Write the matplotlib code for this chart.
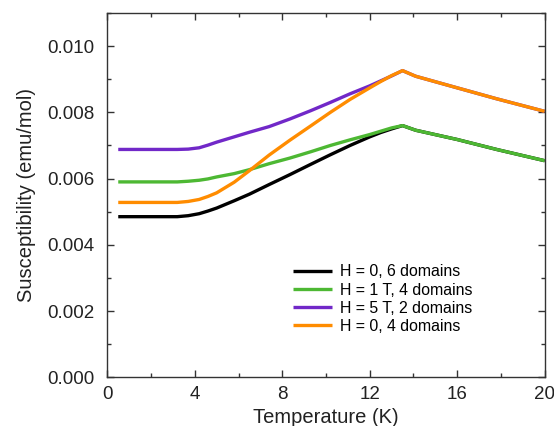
import matplotlib
matplotlib.use("Agg")
import matplotlib.pyplot as plt
from matplotlib.ticker import MultipleLocator

plt.rcParams["font.family"] = ["Liberation Sans", "DejaVu Sans"]

# temperature (K) and susceptibility (emu/mol)
temps = [0.5, 2.0, 3.2, 3.7, 4.2, 4.6, 5.0, 5.8, 6.5, 7.4, 8.35, 9.3, 10.2, 11.1, 12.0, 12.5, 13.0, 13.5,
         14.1, 16.0, 17.8, 20.0]
black = [0.00485, 0.00485, 0.00485, 0.00488, 0.00494, 0.00502, 0.00511, 0.00533, 0.00553, 0.00582, 0.00612,
         0.00643, 0.00672, 0.0070, 0.00726, 0.00739, 0.0075, 0.0076,
         0.00746, 0.00718, 0.00688, 0.00654]
green = [0.0059, 0.0059, 0.0059, 0.00592, 0.00595, 0.00599, 0.00605, 0.00615, 0.00627, 0.00645, 0.00662,
         0.00681, 0.0070, 0.00717, 0.00733, 0.00743, 0.00753, 0.0076,
         0.00746, 0.00718, 0.00688, 0.00654]
purple = [0.00688, 0.00688, 0.00688, 0.00689, 0.00693, 0.00701, 0.0071, 0.00726, 0.0074, 0.00757, 0.0078,
          0.00805, 0.0083, 0.00856, 0.0088, 0.00895, 0.0091, 0.00926,
          0.00909, 0.00874, 0.00841, 0.00803]
orange = [0.00528, 0.00528, 0.00528, 0.00531, 0.00537, 0.00546, 0.00557, 0.00589, 0.00624, 0.00671, 0.00716,
          0.00759, 0.0080, 0.00839, 0.00874, 0.00893, 0.00911, 0.00926,
          0.00909, 0.00874, 0.00841, 0.00803]

labels = ["H = 0, 6 domains", "H = 1 T, 4 domains", "H = 5 T, 2 domains", "H = 0, 4 domains"]
colors = ["#000000", "#4db833", "#7128c8", "#ff8c00"]

fig = plt.figure(figsize=(5.54, 4.26), dpi=100)
ax = fig.add_axes([0.1937, 0.1143, 0.7895, 0.8552])

for ys, lab, c in zip([black, green, purple, orange], labels, colors):
    ax.plot(temps, ys, color=c, lw=2.4, label=lab, solid_capstyle="butt")

ax.set_xlim(0, 20)
ax.set_ylim(0, 0.011)
ax.xaxis.set_major_locator(MultipleLocator(4))
ax.xaxis.set_minor_locator(MultipleLocator(2))
ax.yaxis.set_major_locator(MultipleLocator(0.002))
ax.yaxis.set_minor_locator(MultipleLocator(0.001))
ax.yaxis.set_major_formatter(plt.FuncFormatter(lambda v, p: f"{v:.3f}"))

ax.tick_params(which="both", direction="in", top=True, right=True, color="#333333",
               labelcolor="#222222", labelsize=13.5, width=1)
ax.tick_params(which="major", length=5)
ax.tick_params(which="minor", length=3)
ax.tick_params(axis="y", pad=9)
ax.tick_params(axis="x", pad=6)
for s in ax.spines.values():
    s.set_color("#333333")
    s.set_linewidth(1)

ax.set_xlabel("Temperature (K)", fontsize=14.5, color="#222222", labelpad=4)
ax.set_ylabel("Susceptibility (emu/mol)", fontsize=14.5, color="#222222", labelpad=8)

ax.legend(loc="upper left", bbox_to_anchor=(0.425, 0.31), frameon=False, fontsize=11.4,
          borderpad=0, borderaxespad=0, handlelength=2.42, handletextpad=0.53,
          labelspacing=0.2)

fig.savefig("out.png", dpi=100)
